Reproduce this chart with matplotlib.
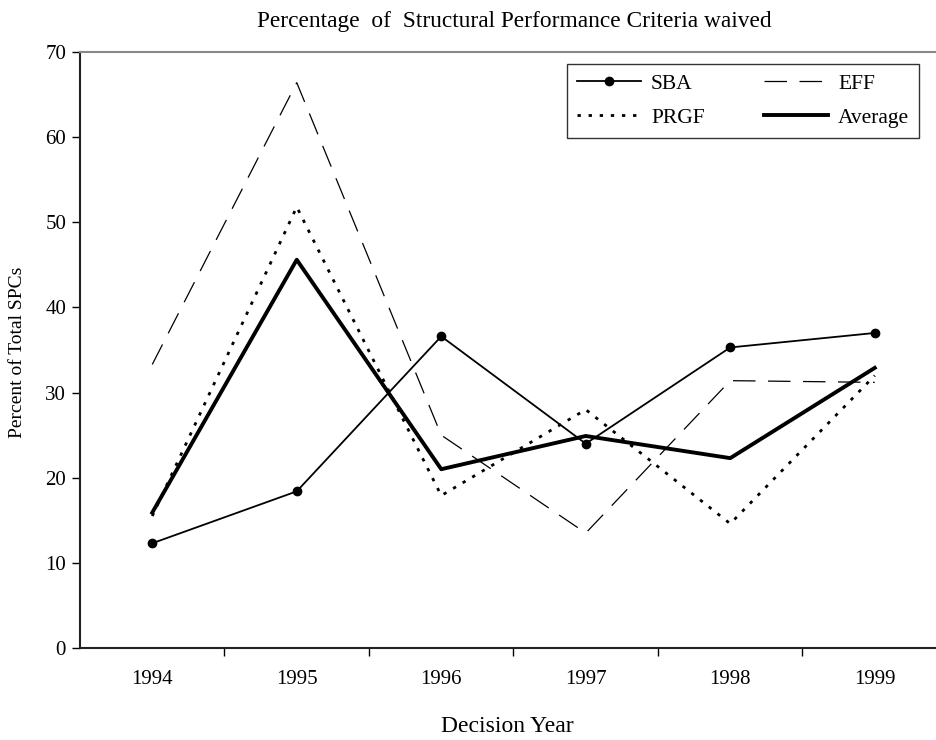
import matplotlib
matplotlib.use("Agg")
import matplotlib.pyplot as plt
import numpy as np

years = ["1994", "1995", "1996", "1997", "1998", "1999"]
sba = [12.3, 18.4, 36.6, 24.0, 35.3, 37.0]
eff = [33.3, 66.4, 25.0, 13.5, 31.4, 31.2]
prgf = [15.5, 51.8, 17.9, 28.0, 14.6, 32.0]
average = [15.9, 45.6, 21.0, 24.9, 22.3, 32.9]

plt.rcParams['font.family'] = ['Liberation Serif', 'DejaVu Serif']

fig = plt.figure(figsize=(9.37, 7.40), dpi=100)
ax = fig.add_axes([80/937, 92/740, 867/937, 596/740])

x = np.arange(len(years))
l_sba, = ax.plot(x, sba, color='black', lw=1.3, marker='o', ms=6, label='SBA')
l_eff, = ax.plot(x, eff, color='black', lw=0.9, dashes=(18, 10), label='EFF')
l_prgf, = ax.plot(x, prgf, color='black', lw=2.0, dashes=(1.2, 2.8), label='PRGF')
l_avg, = ax.plot(x, average, color='black', lw=2.8, label='Average')

ax.set_xlim(-0.5, 5.5)
ax.set_ylim(0, 70)
ax.set_yticks(np.arange(0, 71, 10))
ax.set_xticks(x)
ax.set_xticklabels(years)
ax.set_xticks(np.arange(0.5, 5.0, 1.0), minor=True)
ax.tick_params(axis='x', which='major', length=0, pad=16, labelsize=15)
ax.tick_params(axis='x', which='minor', length=6, direction='out', width=1)
ax.tick_params(axis='y', length=6, direction='out', width=1, labelsize=15, pad=4)

for s in ['left', 'bottom']:
    ax.spines[s].set_linewidth(1.5)
    ax.spines[s].set_color('#222222')
ax.spines['top'].set_color('#888888')
ax.spines['top'].set_linewidth(1.5)
ax.spines['right'].set_visible(False)

fig.text(514/937, 1 - 21/740, "Percentage  of  Structural Performance Criteria waived",
         ha='center', va='center', fontsize=16.8)
fig.text(507/937, 1 - 727/740, "Decision Year", ha='center', va='center', fontsize=17)
fig.text(18/937, 1 - 352/740, "Percent of Total SPCs", ha='center', va='center',
         rotation=90, fontsize=14)

leg = ax.legend(handles=[l_sba, l_prgf, l_eff, l_avg], ncol=2,
                loc='upper right', bbox_to_anchor=(919/937, 1 - 64/740),
                bbox_transform=fig.transFigure, borderaxespad=0,
                fancybox=False, frameon=True, edgecolor='black', fontsize=15.5,
                handlelength=3.0, handletextpad=0.45, columnspacing=2.75,
                labelspacing=0.65, borderpad=0.45)
leg.get_frame().set_linewidth(1.0)

fig.savefig("out.png", dpi=100)
